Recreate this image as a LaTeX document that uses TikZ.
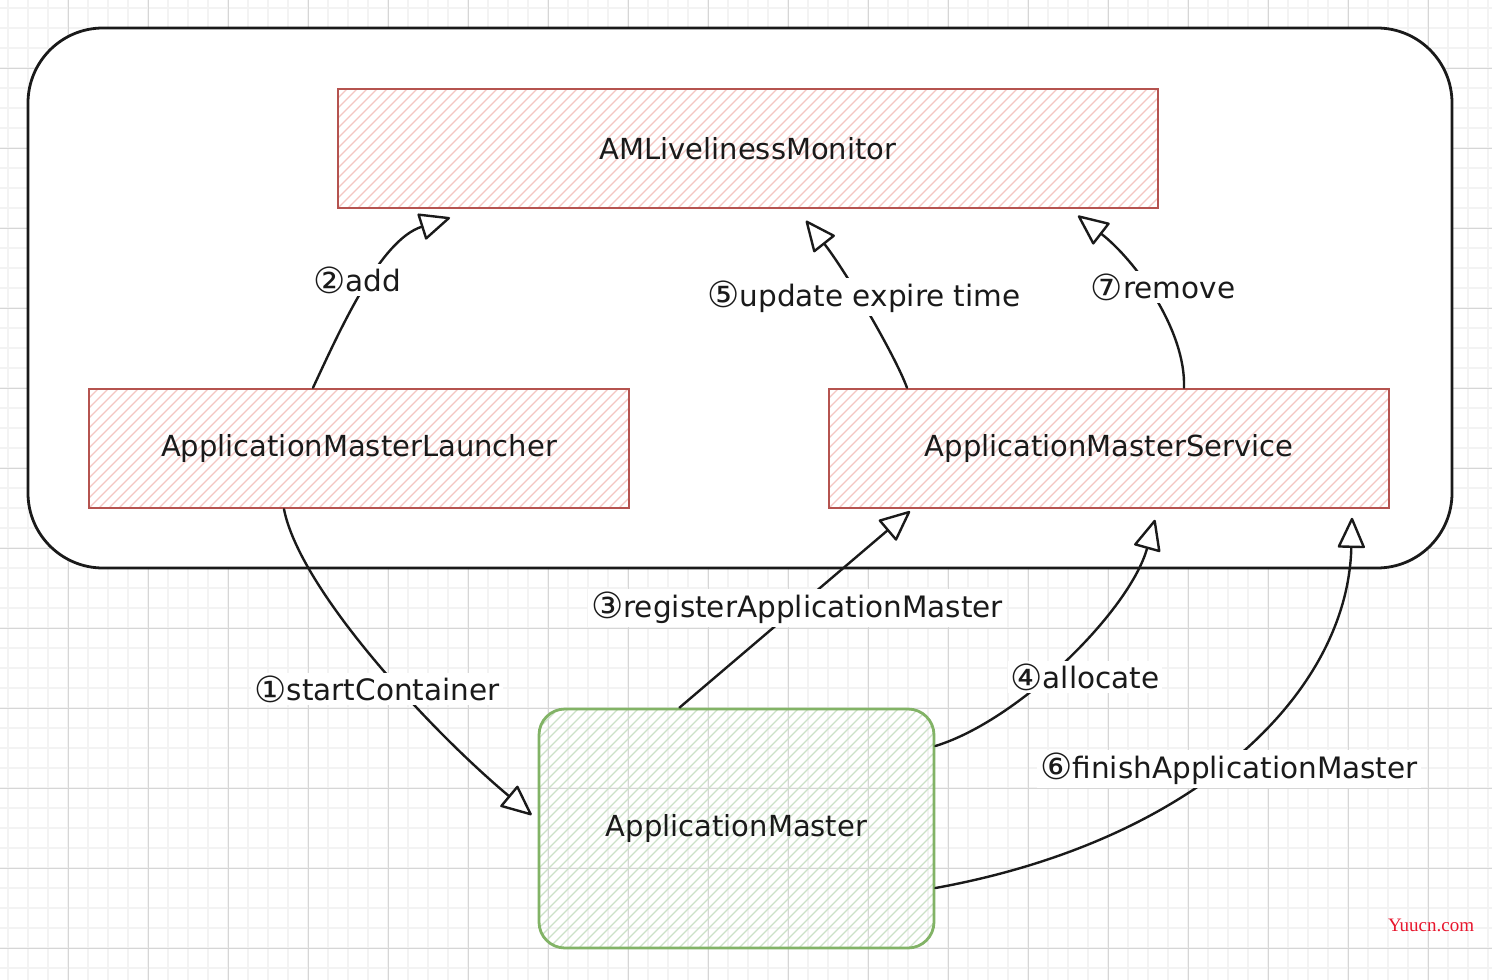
\documentclass[tikz,border=0pt]{standalone}
\usepackage{fontspec}
\setmainfont{DejaVu Sans}
\newfontfamily\wmfont{Liberation Serif}
\usetikzlibrary{arrows.meta,calc}
\definecolor{redstroke}{HTML}{B5534F}
\definecolor{redhatch}{HTML}{F4C6C2}
\definecolor{greenstroke}{HTML}{82B366}
\definecolor{greenhatch}{HTML}{CCE1C8}
\definecolor{minorgrid}{HTML}{F3F3F3}
\definecolor{majorgrid}{HTML}{D6D6D6}
\definecolor{ink}{HTML}{1A1A1A}
\definecolor{wmred}{HTML}{E8162D}
\newcommand{\cnum}[1]{{\fontsize{36}{32}\selectfont\raisebox{-1.5pt}{#1}}}
\begin{document}
\begin{tikzpicture}[x=1pt,y=-1pt,
  txt/.style={font=\fontsize{29}{34}\selectfont, text=ink},
  lbl/.style={font=\fontsize{29.5}{34}\selectfont, text=ink, fill=white, inner sep=3pt},
  hatch/.style={path picture={\foreach \k in {0,...,130}{\draw[#1,line width=1.3pt] ($(path picture bounding box.south west)+(\k*10pt-280pt,0pt)$) -- ++(320pt,320pt);}}},
  redbox/.style={txt, draw=redstroke, line width=2.5pt, fill=white, hatch=redhatch, minimum height=119pt},
  greenbox/.style={txt, draw=greenstroke, line width=2.8pt, rounded corners=26pt, hatch=greenhatch, minimum width=395pt, minimum height=239pt},
  conn/.style={draw=ink, line width=2.4pt, line cap=round, -{Triangle[length=32pt,width=28pt,fill=white,round]}},
]
\useasboundingbox (0,0) rectangle (1492,980);
\fill[white] (0,0) rectangle (1492,980);
% grid
\foreach \i in {0,...,74} \draw[minorgrid,line width=1.5pt] (8+20*\i,0) -- (8+20*\i,980);
\foreach \i in {0,...,49} \draw[minorgrid,line width=1.5pt] (0,8+20*\i) -- (1492,8+20*\i);
\foreach \i in {0,...,18} \draw[majorgrid,line width=1pt] (68+80*\i,0) -- (68+80*\i,980);
\foreach \i in {0,...,11} \draw[majorgrid,line width=1pt] (0,68+80*\i) -- (1492,68+80*\i);
% frame
\node[draw=ink, line width=2.8pt, fill=white, rounded corners=75pt, minimum width=1424pt, minimum height=540pt] (frame) at (740,298) {};
% boxes
\node[redbox, minimum width=820pt] (monitor) at (748,148.5) {AMLivelinessMonitor};
\node[redbox, minimum width=540pt] (launcher) at (359,448.5) {ApplicationMasterLauncher};
\node[redbox, minimum width=560pt] (service) at (1109,448.5) {ApplicationMasterService};
\node[greenbox] (am) at (736.5,828.5) {ApplicationMaster};
% connectors
\draw[conn] ([xshift=-46pt]launcher.north) .. controls (340,330) and (380,240) .. ([xshift=-298pt,yshift=-8.5pt]monitor.south);
\draw[conn] ([xshift=-202pt]service.north) .. controls (895,355) and (845,270) .. ([xshift=58pt,yshift=-11.5pt]monitor.south);
\draw[conn] ([xshift=75pt]service.north) .. controls (1186,330) and (1135,260) .. ([xshift=330pt,yshift=-6.5pt]monitor.south);
\draw[conn] ([xshift=-57pt]am.north) -- ([xshift=-199pt,yshift=-2pt]service.south);
\draw[conn] ([xshift=-75pt]launcher.south) .. controls (300,590) and (430,730) .. ([xshift=-6pt,yshift=13.5pt]am.west);
\draw[conn] ([yshift=82.5pt]am.east) .. controls (1020,720) and (1130,610) .. ([xshift=46pt,yshift=-10.5pt]service.south);
\draw[conn] ([yshift=-59.5pt]am.east) .. controls (1200,840) and (1348,690) .. ([xshift=243pt,yshift=-8.5pt]service.south);
% labels
\node[lbl] (l2) at (357,280) {\cnum{②}add};
\node[lbl] (l5) at (864,297) {\cnum{⑤}update expire time};
\node[lbl] (l7) at (1163,287) {\cnum{⑦}remove};
\node[lbl] (l3) at (797,608) {\cnum{③}registerApplicationMaster};
\node[lbl] (l1) at (377,689) {\cnum{①}startContainer};
\node[lbl] (l4) at (1085,677) {\cnum{④}allocate};
\node[lbl] (l6) at (1229,769) {\cnum{⑥}finishApplicationMaster};
% watermark
\node[font=\wmfont\fontsize{19}{22}\selectfont, text=wmred, inner sep=0pt] (wm) at (1431,925) {Yuucn.com};
\end{tikzpicture}
\end{document}
